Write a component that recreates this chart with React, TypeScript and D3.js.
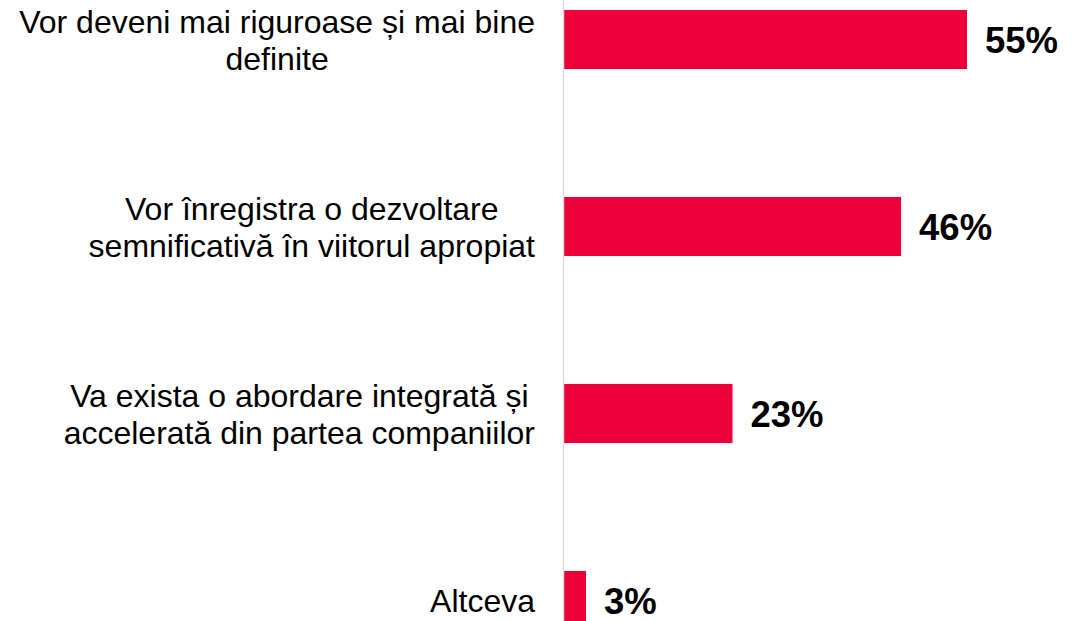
import * as d3 from 'd3';
import React, { useEffect, useRef } from 'react';

const categories = [
    'Vor deveni mai riguroase și mai bine definite',
    'Vor înregistra o dezvoltare semnificativă în viitorul apropiat',
    'Va exista o abordare integrată și accelerată din partea companiilor',
    'Altceva',
];
const labelLines = [
    ['Vor deveni mai riguroase și mai bine', 'definite'],
    ['Vor înregistra o dezvoltare', 'semnificativă în viitorul apropiat'],
    ['Va exista o abordare integrată și', 'accelerată din partea companiilor'],
    ['Altceva'],
];
const values = [55, 46, 23, 3];

const WIDTH = 1084;
const HEIGHT = 621;
const FONT = '"Liberation Sans", Arial, sans-serif';

const App: React.FC = () => {
    const svgRef = useRef<SVGSVGElement | null>(null);

    useEffect(() => {
        document.body.style.margin = '0';
        if (!svgRef.current) return;
        const svg = d3.select(svgRef.current);
        svg.selectAll('*').remove();

        const x = d3.scaleLinear().domain([0, 55]).range([564, 967]);
        const y = d3
            .scaleBand<string>()
            .domain(categories)
            .range([-54, 694])
            .paddingInner(0.684)
            .paddingOuter(0.342);

        // bars
        svg.selectAll('rect.bar')
            .data(values)
            .join('rect')
            .attr('class', 'bar')
            .attr('x', x(0))
            .attr('y', (_, i) => y(categories[i])!)
            .attr('width', (d) => x(d) - x(0))
            .attr('height', y.bandwidth())
            .attr('fill', '#EC003A');

        // axis line
        svg.append('line')
            .attr('x1', x(0) - 0.5)
            .attr('x2', x(0) - 0.5)
            .attr('y1', 0)
            .attr('y2', HEIGHT)
            .attr('stroke', '#d9d9d9')
            .attr('stroke-width', 1.5);

        // value labels
        svg.selectAll('text.value')
            .data(values)
            .join('text')
            .attr('class', 'value')
            .attr('x', (d) => x(d) + 18)
            .attr('y', (_, i) => y(categories[i])! + y.bandwidth() / 2)
            .attr('dy', '0.36em')
            .attr('font-family', FONT)
            .attr('font-weight', 'bold')
            .attr('font-size', 36.5)
            .attr('fill', '#000')
            .text((d) => `${d}%`);

        // category labels: lines centred within a right-aligned block
        const rightEdge = 535;
        const lineHeight = 37;
        labelLines.forEach((lines, i) => {
            const cy = y(categories[i])! + y.bandwidth() / 2;
            const g = svg.append('g');
            const texts = lines.map((line, j) =>
                g
                    .append('text')
                    .attr('y', cy + (j - (lines.length - 1) / 2) * lineHeight)
                    .attr('dy', '0.36em')
                    .attr('text-anchor', 'middle')
                    .attr('font-family', FONT)
                    .attr('font-size', 32)
                    .attr('fill', '#000')
                    .text(line),
            );
            const maxLen = d3.max(texts, (t) => (t.node() as SVGTextElement).getComputedTextLength()) || 0;
            texts.forEach((t) => t.attr('x', rightEdge - maxLen / 2));
        });
    }, []);

    return <svg ref={svgRef} width={WIDTH} height={HEIGHT} style={{ display: 'block' }} />;
};

export default App;
